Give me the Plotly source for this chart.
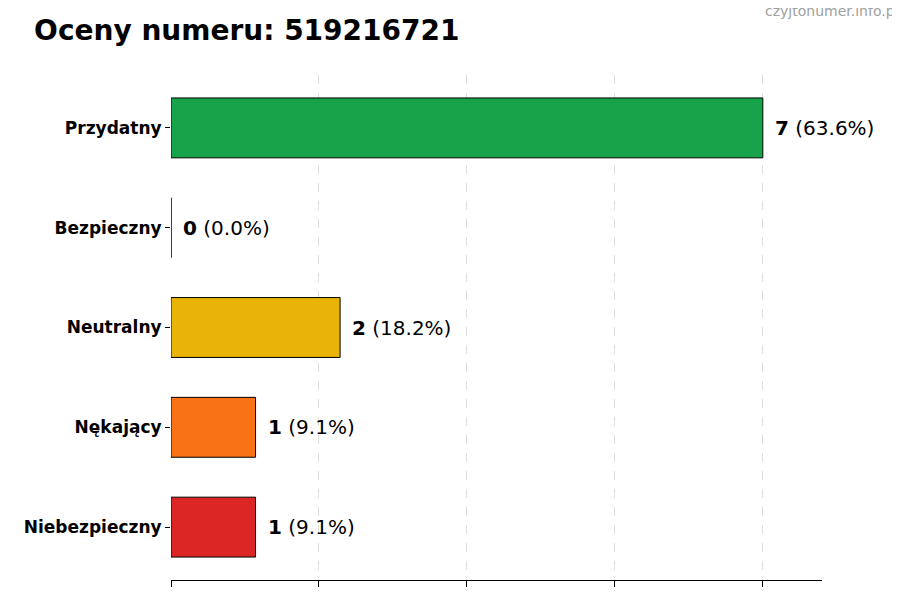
import plotly.graph_objects as go

categories = ["Przydatny", "Bezpieczny", "Neutralny", "Nękający", "Niebezpieczny"]
values = [7, 0, 2, 1, 1]
colors = ["#16a34a", "#15803d", "#eab308", "#f97316", "#dc2626"]
total = sum(values)

fig = go.Figure(go.Bar(
    y=categories, x=values, orientation="h", width=0.6,
    marker=dict(color=colors, line=dict(color="black", width=1)),
    hoverinfo="skip"))

for c, v in zip(categories, values):
    fig.add_annotation(x=v, y=c, xanchor="left", xshift=10, showarrow=False,
                       text=f"<b>{v}</b> ({v/total*100:.1f}%)",
                       font=dict(size=20, color="black", family="DejaVu Sans"))

fig.update_layout(
    width=900, height=600, plot_bgcolor="white", paper_bgcolor="white",
    margin=dict(l=163, r=86, t=67, b=28), showlegend=False,
    font=dict(family="DejaVu Sans", color="black"),
    title=dict(text="<b>Oceny numeru: 519216721</b>", x=0.029, xanchor="left",
               y=0.963, yanchor="middle", font=dict(size=28, color="black")),
    xaxis=dict(range=[0, 7.7], tickvals=[0, 1.75, 3.5, 5.25, 7], showticklabels=False,
               ticks="outside", ticklen=6, tickcolor="black", showline=True,
               linecolor="black", showgrid=True, gridcolor="#dedede", griddash="dash",
               zeroline=False, fixedrange=True),
    yaxis=dict(categoryorder="array", categoryarray=categories[::-1],
               range=[-0.53, 4.53], ticks="outside", ticklen=5, tickcolor="black",
               tickfont=dict(size=17), showline=False, showgrid=False),
)
fig.update_yaxes(ticktext=[f"<b>{c}</b>" for c in categories], tickvals=categories)
fig.add_annotation(xref="paper", yref="paper", x=1.12, y=1.127, xanchor="right",
                   yanchor="middle", showarrow=False, text="czyjtonumer.info.pl",
                   font=dict(size=14, color="#a0a0a0"))
fig.write_html("out.html")
